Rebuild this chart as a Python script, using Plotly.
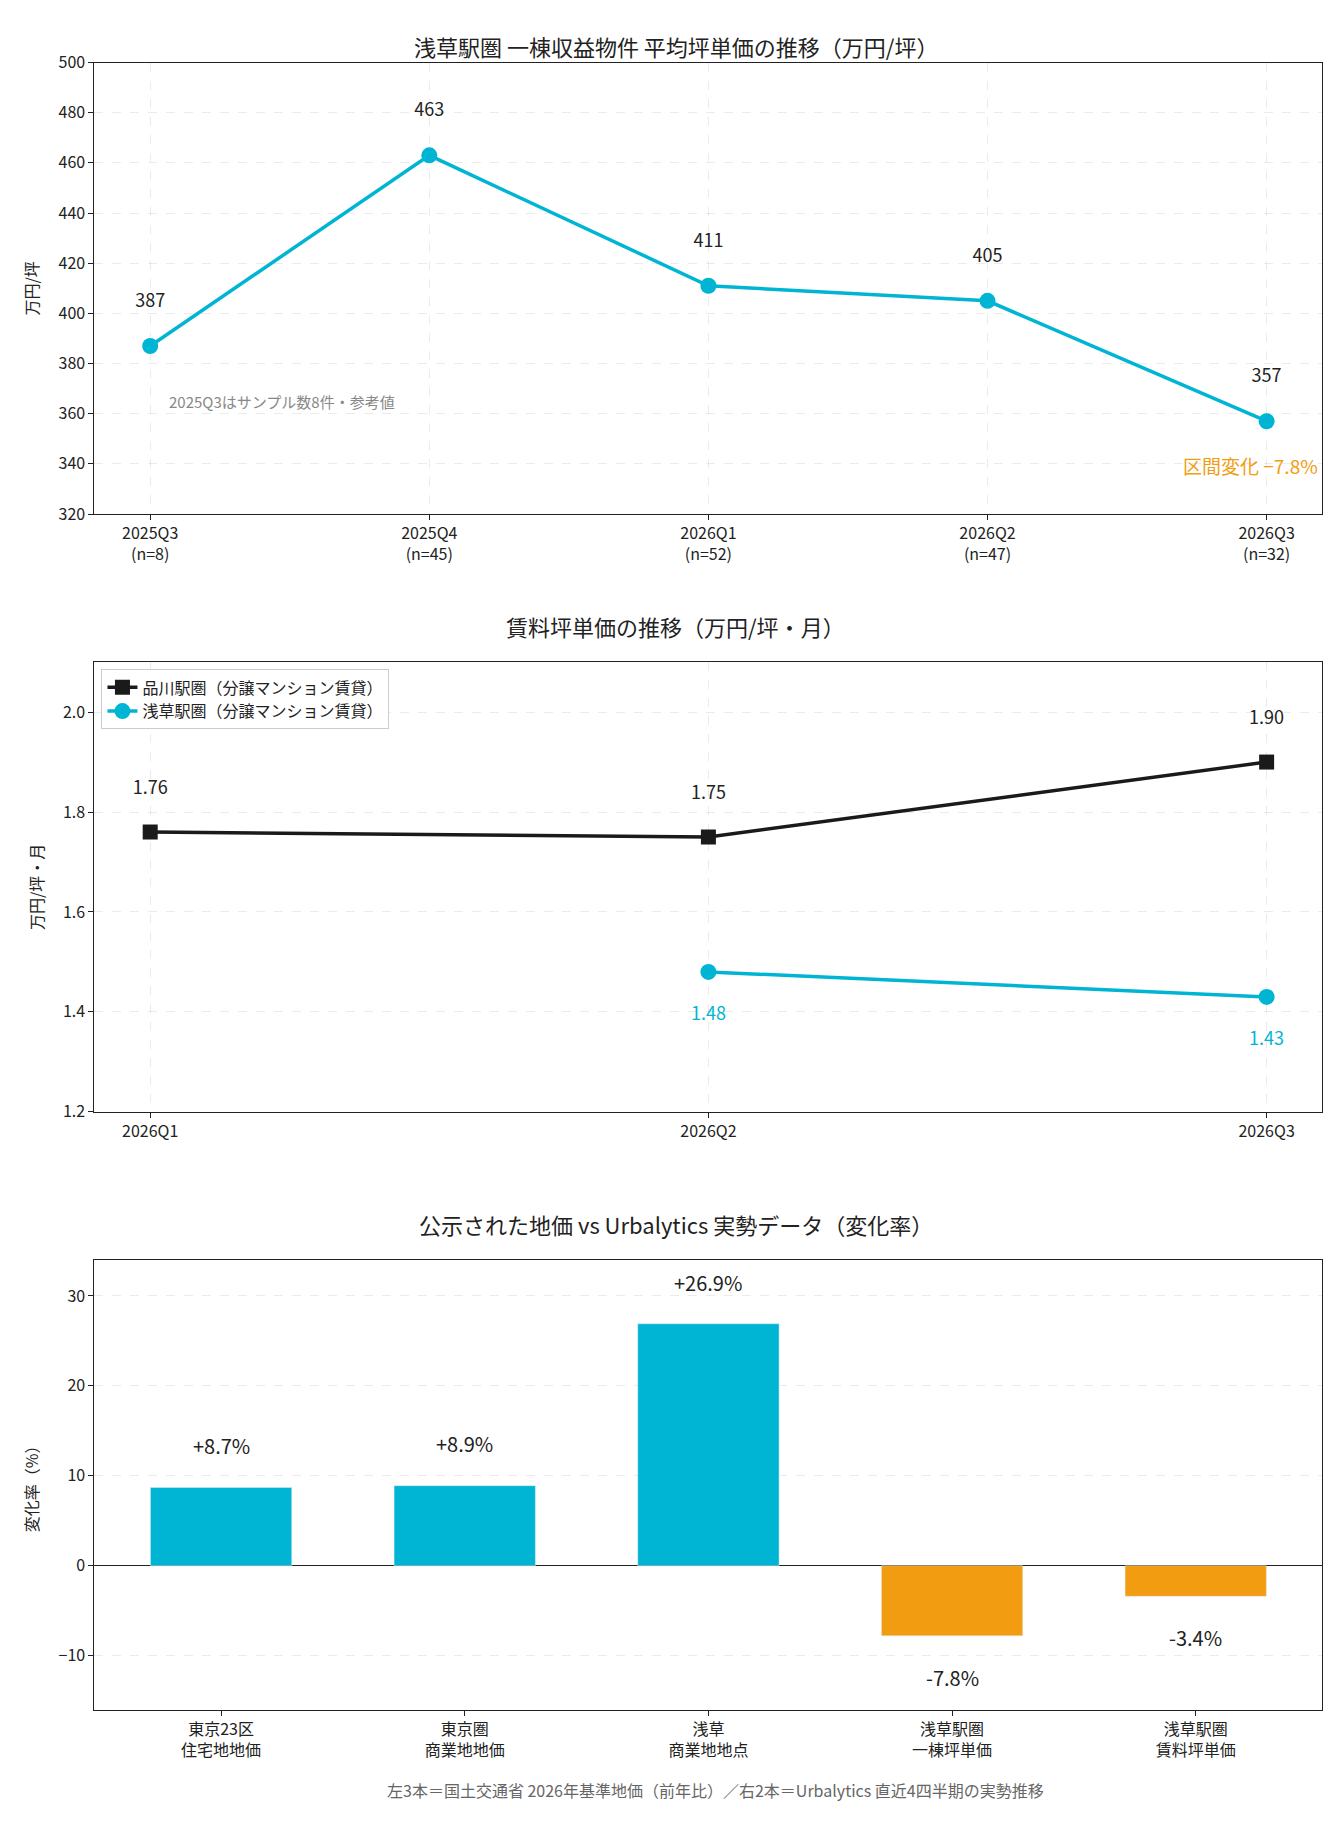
import plotly.graph_objects as go

q1 = ["2025Q3", "2025Q4", "2026Q1", "2026Q2", "2026Q3"]
n1 = [8, 45, 52, 47, 32]
price = [387, 463, 411, 405, 357]

q2 = ["2026Q1", "2026Q2", "2026Q3"]
shinagawa = [1.76, 1.75, 1.90]
asakusa = [None, 1.48, 1.43]

cats3 = ["東京23区<br>住宅地地価", "東京圏<br>商業地地価", "浅草<br>商業地地点", "浅草駅圏<br>一棟坪単価", "浅草駅圏<br>賃料坪単価"]
vals3 = [8.7, 8.9, 26.9, -7.8, -3.4]

CYAN = "#00b5d3"
ORANGE = "#f29c11"
BLACK = "#1a1a1a"
FONT = "Noto Sans CJK JP"
GRID = "rgba(0,0,0,0.08)"

fig = go.Figure()
x1 = list(range(len(q1)))
fig.add_trace(go.Scatter(x=x1, y=price, mode="lines+markers+text",
    line=dict(color=CYAN, width=3.5), marker=dict(size=16, color=CYAN),
    text=[str(v) + "<br> " for v in price], textposition="top center",
    textfont=dict(size=18, color="#222"), showlegend=False, xaxis="x", yaxis="y", cliponaxis=False))

x2 = list(range(len(q2)))
fig.add_trace(go.Scatter(x=x2, y=shinagawa, mode="lines+markers+text", name="品川駅圏（分譲マンション賃貸）",
    line=dict(color=BLACK, width=3.5), marker=dict(size=15, color=BLACK, symbol="square"),
    text=[f"{v:.2f}<br> " for v in shinagawa], textposition="top center",
    textfont=dict(size=18, color="#222"), xaxis="x2", yaxis="y2", cliponaxis=False))
fig.add_trace(go.Scatter(x=x2, y=asakusa, mode="lines+markers+text", name="浅草駅圏（分譲マンション賃貸）",
    line=dict(color=CYAN, width=3.5), marker=dict(size=16, color=CYAN),
    text=["" if v is None else f" <br>{v:.2f}" for v in asakusa], textposition="bottom center",
    textfont=dict(size=18, color=CYAN), xaxis="x2", yaxis="y2", cliponaxis=False))

colors3 = [CYAN if v >= 0 else ORANGE for v in vals3]
fig.add_trace(go.Bar(x=list(range(len(cats3))), y=vals3, marker=dict(color=colors3), width=0.58,
    showlegend=False, xaxis="x3", yaxis="y3"))

ax = dict(showline=True, linecolor="#222", mirror=True, ticks="outside", tickcolor="#222",
          tickfont=dict(size=16, color="#222"), showgrid=True, gridcolor=GRID, griddash="dash", zeroline=False)
dom = [0.0647, 0.9846]
anns = [
    dict(text="浅草駅圏 一棟収益物件 平均坪単価の推移（万円/坪）", x=0.5, y=0.996, xref="paper", yref="paper",
         showarrow=False, font=dict(size=22)),
    dict(text="賃料坪単価の推移（万円/坪・月）", x=0.5, y=0.665, xref="paper", yref="paper",
         showarrow=False, font=dict(size=22)),
    dict(text="公示された地価 vs Urbalytics 実勢データ（変化率）", x=0.5, y=0.334, xref="paper", yref="paper",
         showarrow=False, font=dict(size=22)),
    dict(text="2025Q3はサンプル数8件・参考値", x=0.06, y=365, xref="x", yref="y", xanchor="left",
         showarrow=False, font=dict(size=15, color="#888")),
    dict(text="区間変化 −7.8%", x=0.998, y=333, xref="x domain", yref="y", xanchor="right", yanchor="bottom",
         showarrow=False, font=dict(size=19, color=ORANGE)),
    dict(text="左3本＝国土交通省 2026年基準地価（前年比）／右2本＝Urbalytics 直近4四半期の実勢推移",
         x=0.53, y=0.013, xref="paper", yref="paper", showarrow=False, font=dict(size=16, color="#666")),
]
for i, v in enumerate(vals3):
    anns.append(dict(text=f"{v:+.1f}%", x=i, y=v + (2.8 if v >= 0 else -2.8), xref="x3", yref="y3",
                     yanchor="bottom" if v >= 0 else "top", showarrow=False, font=dict(size=20, color="#222")))

fig.update_layout(
    width=1335, height=1830, margin=dict(l=0, r=0, t=0, b=0),
    paper_bgcolor="white", plot_bgcolor="white", font=dict(family=FONT, color="#222"),
    xaxis=dict(ax, domain=dom, range=[-0.2, 4.2], tickvals=x1,
               ticktext=[f"{q}<br>(n={n})" for q, n in zip(q1, n1)], anchor="y"),
    yaxis=dict(ax, domain=[0.727, 0.977], range=[320, 500], dtick=20, anchor="x",
               title=dict(text="万円/坪", font=dict(size=16))),
    xaxis2=dict(ax, domain=dom, range=[-0.1, 2.1], tickvals=x2, ticktext=q2, anchor="y2"),
    yaxis2=dict(ax, domain=[0.396, 0.645], range=[1.2, 2.1], tickvals=[1.2, 1.4, 1.6, 1.8, 2.0],
                tickformat=".1f", anchor="x2", title=dict(text="万円/坪・月", font=dict(size=16))),
    xaxis3=dict(ax, domain=dom, range=[-0.52, 4.52], tickvals=list(range(len(cats3))), ticktext=cats3,
                anchor="y3", showgrid=False),
    yaxis3=dict(ax, domain=[0.065, 0.314], range=[-16, 34], tickvals=[-10, 0, 10, 20, 30], anchor="x3",
                zeroline=True, zerolinecolor="#222", zerolinewidth=1,
                title=dict(text="変化率（%）", font=dict(size=16))),
    legend=dict(x=0.07, y=0.641, xanchor="left", yanchor="top", bgcolor="rgba(255,255,255,0.9)",
                bordercolor="#ccc", borderwidth=1, font=dict(size=16)),
    annotations=anns,
)
fig.write_html("out.html")
